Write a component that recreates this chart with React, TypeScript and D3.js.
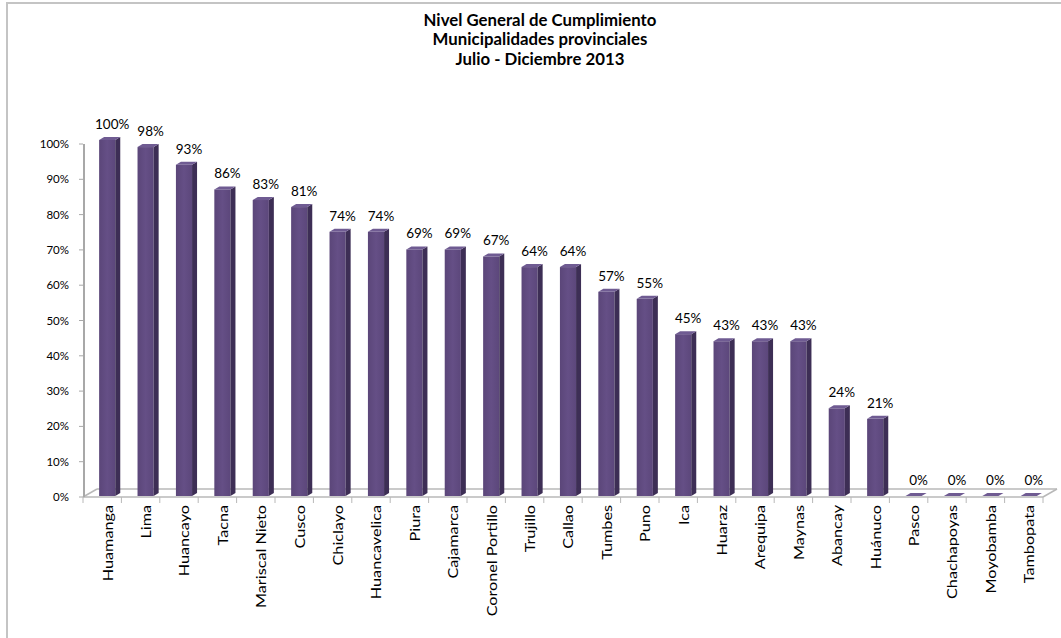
import React from "react";
import * as d3 from "d3";

const categories = [
  "Huamanga", "Lima", "Huancayo", "Tacna", "Mariscal Nieto", "Cusco", "Chiclayo",
  "Huancavelica", "Piura", "Cajamarca", "Coronel Portillo", "Trujillo", "Callao",
  "Tumbes", "Puno", "Ica", "Huaraz", "Arequipa", "Maynas", "Abancay", "Huánuco",
  "Pasco", "Chachapoyas", "Moyobamba", "Tambopata",
];
const values = [100, 98, 93, 86, 83, 81, 74, 74, 69, 69, 67, 64, 64, 57, 55, 45, 43, 43, 43, 24, 21, 0, 0, 0, 0];
const yTicks = [0, 10, 20, 30, 40, 50, 60, 70, 80, 90, 100];
const titleLines = ["Nivel General de Cumplimiento", "Municipalidades provinciales", "Julio - Diciembre  2013"];

const W = 1061;
const H = 638;
const left = 83;
const right = 1043;
const top = 144;
const bottom = 497;
const depthX = 14;
const depthY = 8;
const FONT = "Lato, 'Open Sans', sans-serif";

export default function App() {
  const x = d3.scaleBand<string>().domain(categories).range([left, right]).padding(0);
  const y = d3.scaleLinear().domain([0, 100]).range([bottom, top]);
  const bw = x.bandwidth();
  const barW = bw * 0.42;
  const barOff = bw * 0.42;
  const sideX = 5;
  const sideY = 3;
  const lift = 4;
  const gray = "#b8b8b8";

  return (
    <svg width={W} height={H} style={{ position: "absolute", left: 0, top: 0, background: "#fff" }}>
      <defs>
        <linearGradient id="front" x1="0" x2="1" y1="0" y2="0">
          <stop offset="0" stopColor="#5b4679" />
          <stop offset="0.5" stopColor="#654f86" />
          <stop offset="1" stopColor="#5c477b" />
        </linearGradient>
      </defs>
      {/* outer frame */}
      <line x1={6} x2={W} y1={3} y2={3} stroke="#c4c4c4" strokeWidth={2} />
      <line x1={7} x2={7} y1={3} y2={H} stroke="#c4c4c4" strokeWidth={2} />

      {/* title */}
      <g fontFamily={FONT} fontWeight="bold" fontSize={16.8} textAnchor="middle" fill="#000">
        {titleLines.map((t, i) => {
          const ty = 26 + i * 19.5;
          return (
            <text key={i} x={540} y={ty} transform={`translate(0 ${ty}) scale(1 1.05) translate(0 ${-ty})`}>
              {t}
            </text>
          );
        })}
      </g>

      {/* floor */}
      <g stroke={gray} strokeWidth={1.5} fill="none">
        <line x1={left} x2={right} y1={bottom} y2={bottom} />
        <line x1={left + depthX} x2={right + depthX} y1={bottom - depthY} y2={bottom - depthY} />
        <line x1={left} x2={left + depthX} y1={bottom} y2={bottom - depthY} />
        <line x1={right} x2={right + depthX} y1={bottom} y2={bottom - depthY} />
      </g>

      {/* y axis */}
      <line x1={left + 1} x2={left + 1} y1={top} y2={bottom} stroke="#a8a8a8" strokeWidth={2} />
      {yTicks.map((t) => (
        <g key={t}>
          <line x1={left - 4} x2={left} y1={y(t)} y2={y(t)} stroke="#a8a8a8" strokeWidth={1} />
          <text x={69} y={y(t)} dy="0.35em" textAnchor="end" fontFamily={FONT} fontSize={11.5} fill="#000">
            {t}%
          </text>
        </g>
      ))}

      {/* x ticks */}
      {d3.range(categories.length + 1).map((i) => (
        <line key={i} x1={left + i * bw} x2={left + i * bw} y1={bottom} y2={bottom + 6} stroke={gray} strokeWidth={1} />
      ))}

      {/* bars */}
      {categories.map((c, i) => {
        const v = values[i];
        const x0 = (x(c) as number) + barOff;
        const yb = bottom - 1;
        const yt = Math.min(y(v) - lift + (v === 0 ? lift + 1 : 0), yb);
        const x1 = x0 + barW;
        return (
          <g key={c}>
            {yb - yt > 0.5 && <rect x={x0} y={yt} width={barW} height={yb - yt} fill="url(#front)" />}
            <polygon points={`${x1},${yt} ${x1 + sideX},${yt - sideY} ${x1 + sideX},${yb - sideY} ${x1},${yb}`} fill="#3d2e55" />
            <polygon points={`${x0},${yt} ${x1},${yt} ${x1 + sideX},${yt - sideY} ${x0 + sideX},${yt - sideY}`} fill="#6f5b92" />
            <text x={x0 + barW / 2 + 5} y={yt - 11} textAnchor="middle" fontFamily={FONT} fontSize={13.5} fill="#000">
              {v}%
            </text>
          </g>
        );
      })}

      {/* x labels */}
      {categories.map((c) => {
        const cx = (x(c) as number) + bw / 2 + 5;
        const cy = 505;
        return (
          <text
            key={c}
            transform={`translate(${cx},${cy}) rotate(-90) scale(1.2,1)`}
            textAnchor="end"
            dominantBaseline="central"
            fontFamily={FONT}
            fontSize={13.5}
            fill="#000"
          >
            {c}
          </text>
        );
      })}
    </svg>
  );
}
